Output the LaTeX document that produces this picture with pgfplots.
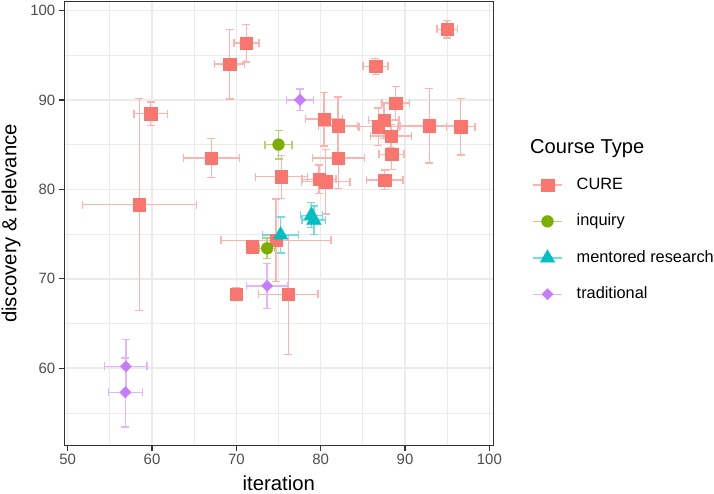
\documentclass[border=0pt]{standalone}
\usepackage{fontspec}
\setmainfont{Liberation Sans}
\usepackage{pgfplots}
\pgfplotsset{compat=1.18}
\usepackage{pgfplotstable}
\definecolor{cure}{HTML}{F8766D}
\definecolor{inq}{HTML}{7CAE00}
\definecolor{ment}{HTML}{00BFC4}
\definecolor{trad}{HTML}{C77CFF}
\colorlet{curel}{cure!55!white}
\colorlet{inql}{inq!55!white}
\colorlet{mentl}{ment!55!white}
\colorlet{tradl}{trad!55!white}
\definecolor{gridc}{HTML}{EBEBEB}
\definecolor{tickc}{HTML}{4D4D4D}
\definecolor{framec}{HTML}{333333}

\pgfplotsset{myerr/.style={/pgfplots/error bars/.cd, x dir=both, x explicit, y dir=both, y explicit,
  error bar style={line width=1.4bp, color=#1},
  error mark options={rotate=90, line width=1.4bp, mark size=4bp, color=#1}}}

\pgfplotstableread{
x y ex ey
71.2 96.35 1.5 2.1
69.2 94.0 1.8 3.9
59.85 88.45 2.0 1.3
67.05 83.5 3.35 2.2
58.5 78.3 6.75 11.85
75.35 81.4 3.1 2.4
95.0 97.9 1.2 1.0
86.5 93.75 1.5 0.9
88.9 89.65 1.65 1.85
80.4 87.85 2.2 3.0
82.05 87.1 2.3 3.2
87.5 87.7 1.8 2.0
86.85 87.0 2.3 2.1
88.35 85.95 2.45 1.3
82.1 83.5 3.1 3.4
88.4 83.9 1.5 1.7
79.8 81.1 2.0 1.6
80.6 80.85 2.9 3.6
87.6 81.05 2.15 1.1
92.9 87.1 3.5 4.15
96.6 87.0 1.7 3.15
71.85 73.6 0.5 0.5
74.7 74.3 6.5 4.6
70.0 68.3 0.7 0.7
76.15 68.25 3.55 6.7
}\curedata

\pgfplotstableread{
x y ex ey
75.0 85.0 1.6 1.6
73.65 73.4 0.9 1.15
}\inqdata

\pgfplotstableread{
x y ex ey
78.9 77.1 1.3 1.4
79.2 76.55 1.4 1.6
75.25 74.9 2.15 2.0
}\mentdata

\pgfplotstableread{
x y ex ey
77.55 90.0 1.6 1.2
73.65 69.2 2.45 2.5
56.9 60.2 2.5 3.0
56.85 57.3 2.0 3.85
}\traddata

\begin{document}
\begin{tikzpicture}[x=1bp,y=1bp]
\useasboundingbox (0,0) rectangle (714,494);
\begin{axis}[
  at={(64.3bp,48.5bp)}, anchor=south west,
  scale only axis, width=429bp, height=444bp,
  xmin=49.6, xmax=100.47, ymin=51.36, ymax=101.0,
  xtick={50,60,70,80,90,100}, ytick={60,70,80,90,100},
  minor xtick={55,65,75,85,95}, minor ytick={55,65,75,85,95},
  grid=both,
  major grid style={gridc, line width=1.6bp},
  minor grid style={gridc, line width=0.8bp},
  minor tick length=0pt,
  major tick length=5.5bp,
  tick align=outside, tick pos=left,
  tick style={framec, line width=1.3bp},
  axis line style={framec, line width=1.3bp},
  /pgf/number format/assume math mode=true,
  ticklabel style={font=\fontsize{15}{15}\selectfont, text=tickc},
  xlabel={iteration},
  ylabel={discovery \& relevance},
  label style={font=\fontsize{20.4}{20.4}\selectfont, inner sep=0pt},
  xlabel style={at={(axis description cs:0.5,-0.102)}, anchor=base},
  ylabel style={at={(axis description cs:-0.1115,0.5)}, anchor=base},
  legend style={at={(axis description cs:1.0909,0.604)}, anchor=north west,
    draw=none, fill=none, inner sep=0pt, outer sep=0pt, row sep=20.5bp,
    font=\fontsize{16.4}{19}\selectfont,
    nodes={inner sep=0pt, text height=12.2bp, text depth=3.5bp},
    /tikz/every odd column/.append style={column sep=14bp}},
  legend cell align=left,
  legend image code/.code={
    \draw[line width=1.4bp, draw=.!55!white, solid] (0bp,0bp) -- (29bp,0bp);
    \draw[only marks,#1] plot coordinates {(14.5bp,0bp)};
  },
]
\addplot+[only marks, color=cure, mark=square*, mark size=6.2bp,
  mark options={fill=cure, draw=cure}, myerr=curel]
  table[x=x, y=y, x error=ex, y error=ey] {\curedata};
\addlegendentry{CURE}
\addplot+[only marks, color=inq, mark=*, mark size=5.9bp,
  mark options={fill=inq, draw=inq}, myerr=inql]
  table[x=x, y=y, x error=ex, y error=ey] {\inqdata};
\addlegendentry{inquiry}
\addplot+[only marks, color=ment, mark=triangle*, mark size=8.3bp,
  mark options={fill=ment, draw=ment}, myerr=mentl]
  table[x=x, y=y, x error=ex, y error=ey] {\mentdata};
\addlegendentry{mentored research}
\addplot+[only marks, color=trad, mark=square*, mark size=4bp,
  mark options={fill=trad, draw=trad, rotate=45}, myerr=tradl]
  table[x=x, y=y, x error=ex, y error=ey] {\traddata};
\addlegendentry{traditional}
\end{axis}
\node[anchor=base west, font=\fontsize{20.2}{20.2}\selectfont, inner sep=0pt] at (530,340) {Course Type};
\end{tikzpicture}
\end{document}
